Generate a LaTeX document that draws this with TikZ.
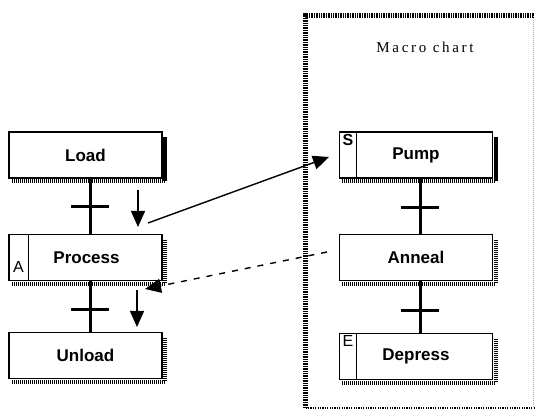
\documentclass[tikz,border=0pt]{standalone}
\usepackage{fontspec}
\setmainfont{Liberation Sans}
\newfontfamily\macrofont[LetterSpace=18]{Liberation Serif}
\usetikzlibrary{arrows.meta,calc}

\tikzset{
  stepbox/.style={draw, line width=1.3pt, fill=white, minimum width=153pt,
    minimum height=46pt, inner sep=0pt,
    font=\bfseries\fontsize{17}{17}\selectfont},
  shadowband/.style={line width=4pt, dash pattern=on 1.2pt off 0.8pt},
  link/.style={line width=3pt},
  crossbar/.style={line width=3pt},
  compart/.style={line width=1.2pt},
  tag/.style={font=\bfseries\fontsize{16}{16}\selectfont, inner sep=0pt},
  flow/.style={line width=1.4pt, -{Triangle[length=16pt,width=14pt]}},
  framethick/.style={line width=5pt, dash pattern=on 1.4pt off 1pt},
  framethin/.style={line width=2pt, dash pattern=on 1.2pt off 1.2pt}
}

% dotted drop shadow on the right and bottom of a step box
\newcommand{\stepshadow}[1]{%
  \draw[shadowband] ($(#1.north east)+(2.5,6)$) -- ($(#1.south east)+(2.5,2.5)$)
    -- ($(#1.south west)+(3,2.5)$);}

% short horizontal transition bar across a link
\newcommand{\transbar}[1]{%
  \draw[crossbar] ($(#1)+(-19,0)$) -- ($(#1)+(19,0)$);}

\begin{document}
\begin{tikzpicture}[x=1pt,y=-1pt]
\useasboundingbox (0,0) rectangle (535,411);

% ---- macro chart frame ----
\draw[framethick] (305.5,408) -- (305.5,15.5) -- (535,15.5);
\draw[framethin] (305.5,408) -- (535,408);
\draw[line width=0.6pt, gray!60, dash pattern=on 1pt off 1pt] (533,16) -- (533,408);
\node[font=\macrofont\fontsize{15}{15}\selectfont, inner sep=0pt] (title) at (425,47) {Macro chart};

% ---- main chart steps ----
\node[stepbox] (load) at (85.5,155) {Load};
\node[stepbox] (proc) at (85.5,257.5) {\hspace*{2pt}Process};
\node[stepbox] (unload) at (85.5,355.5) {Unload};
\stepshadow{load}
\stepshadow{proc}
\stepshadow{unload}
\draw[compart] ($(proc.north west)+(20,0)$) -- ($(proc.south west)+(20,0)$);
\node[tag, font=\fontsize{16}{16}\selectfont, anchor=south] (tagA) at ($(proc.south west)+(10,-8)$) {A};

% ---- macro steps ----
\node[stepbox] (pump) at (416,155) {Pump};
\node[stepbox] (anneal) at (416,257.5) {Anneal};
\node[stepbox] (depress) at (416,356.5) {Depress};
\stepshadow{pump}
\stepshadow{anneal}
\stepshadow{depress}
\draw[compart] ($(pump.north west)+(18,0)$) -- ($(pump.south west)+(18,0)$);
\draw[compart] ($(depress.north west)+(18,0)$) -- ($(depress.south west)+(18,0)$);
\node[tag, anchor=north] (tagS) at ($(pump.north west)+(9,2.5)$) {S};
\node[tag, font=\fontsize{16}{16}\selectfont, anchor=north] (tagE) at ($(depress.north west)+(9,2.5)$) {E};

% ---- links with transitions ----
\draw[link] ($(load.south)+(4.5,0)$) coordinate (l1a) -- ($(proc.north)+(4.5,0)$) coordinate (l1b);
\draw[link] ($(proc.south)+(4.5,0)$) coordinate (l2a) -- ($(unload.north)+(4.5,0)$) coordinate (l2b);
\draw[link] ($(pump.south)+(4,0)$) coordinate (r1a) -- ($(anneal.north)+(4,0)$) coordinate (r1b);
\draw[link] ($(anneal.south)+(4,0)$) coordinate (r2a) -- ($(depress.north)+(4,0)$) coordinate (r2b);
\coordinate (t1) at (90,207);
\coordinate (t2) at (90,310);
\coordinate (t3) at (420,208);
\coordinate (t4) at (420,311);
\transbar{t1}
\transbar{t2}
\transbar{t3}
\transbar{t4}

% ---- flow arrows ----
\coordinate (d1a) at (138,190);
\coordinate (d1b) at (138,227);
\coordinate (d2a) at (137,290);
\coordinate (d2b) at (137,327);
\draw[flow] (d1a) -- (d1b);
\draw[flow] (d2a) -- (d2b);

\coordinate (callfrom) at (148,223);
\coordinate (callto) at (329,157);
\draw[flow] (callfrom) -- (callto);

\coordinate (retfrom) at (327,252);
\coordinate (retto) at (145,289);
\draw[flow, dash pattern=on 6pt off 7pt] (retfrom) -- (retto);
\end{tikzpicture}
\end{document}
